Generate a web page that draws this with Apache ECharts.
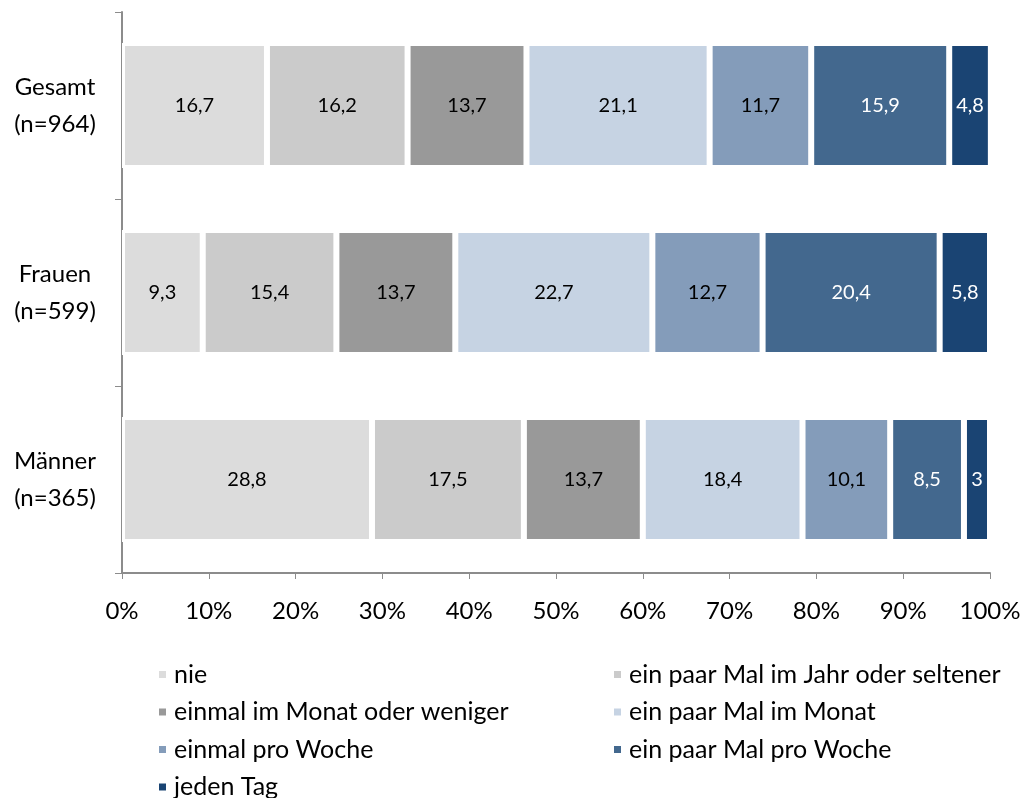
<!DOCTYPE html>
<html>
<head>
<meta charset="utf-8">
<script src="https://cdn.jsdelivr.net/npm/echarts@6/dist/echarts.min.js"></script>
<style>
	html, body { margin: 0; padding: 0; background: #fff; }
	#chart { width: 1026px; height: 798px; }
</style>
</head>
<body>
<div id="chart"></div>
<script>
// categories, top to bottom
var groups = ['Gesamt\n(n=964)', 'Frauen\n(n=599)', 'Männer\n(n=365)'];
var seriesNames = ['nie', 'ein paar Mal im Jahr oder seltener', 'einmal im Monat oder weniger',
	'ein paar Mal im Monat', 'einmal pro Woche', 'ein paar Mal pro Woche', 'jeden Tag'];
var nie = [16.7, 9.3, 28.8];
var paarJahr = [16.2, 15.4, 17.5];
var einmalMonat = [13.7, 13.7, 13.7];
var paarMonat = [21.1, 22.7, 18.4];
var einmalWoche = [11.7, 12.7, 10.1];
var paarWoche = [15.9, 20.4, 8.5];
var jedenTag = [4.8, 5.8, 3];
var xTicks = ['0%', '10%', '20%', '30%', '40%', '50%', '60%', '70%', '80%', '90%', '100%'];

var colors = ['#dcdcdc', '#cbcbcb', '#999999', '#c6d3e3', '#849cba', '#43688e', '#1a4473'];
var labelColors = ['#000', '#000', '#000', '#000', '#000', '#fff', '#fff'];
var values = [nie, paarJahr, einmalMonat, paarMonat, einmalWoche, paarWoche, jedenTag];
var FONT = 'Lato';

var chart = echarts.init(document.getElementById('chart'));
var series = [];
for (var i = 0; i < seriesNames.length; i++) {
	series.push({
		name: seriesNames[i],
		type: 'bar',
		stack: 'total',
		barWidth: 125,
		itemStyle: { color: colors[i], borderColor: '#fff', borderWidth: 3 },
		label: {
			show: true,
			position: 'inside',
			color: labelColors[i],
			fontFamily: FONT,
			fontSize: 20,
			formatter: function (p) { return String(p.value).replace('.', ','); }
		},
		data: values[i]
	});
}

// legend: two columns, one legend per entry so the columns line up
var legendSlots = [[152, 0], [607, 0], [152, 1], [607, 1], [152, 2], [607, 2], [152, 3]];
var legends = [];
for (var k = 0; k < seriesNames.length; k++) {
	legends.push({
		left: legendSlots[k][0], top: 657 + legendSlots[k][1] * 37.5,
		itemWidth: 9, itemHeight: 9, icon: 'rect', itemGap: 0,
		textStyle: { fontFamily: FONT, fontSize: 25, color: '#000', padding: [0, 0, 0, 2] },
		data: [seriesNames[k]]
	});
}

var option = {
	animation: false,
	color: colors,
	grid: { left: 122, right: 36, top: 12, bottom: 225 },
	legend: legends,
	xAxis: {
		type: 'value', min: 0, max: 100, interval: 10,
		axisLine: { show: true, lineStyle: { color: '#8c8c8c', width: 2 } },
		axisTick: { show: true, length: 6, lineStyle: { color: '#8c8c8c' } },
		splitLine: { show: false },
		axisLabel: {
			margin: 26, fontFamily: FONT, fontSize: 24, color: '#000',
			formatter: function (v) { return xTicks[Math.round(v / 10)]; }
		}
	},
	yAxis: {
		type: 'category', inverse: true, data: groups,
		axisLine: { show: true, lineStyle: { color: '#8c8c8c', width: 2 } },
		axisTick: { show: true, length: 7, lineStyle: { color: '#8c8c8c' } },
		axisLabel: {
			margin: 67, fontFamily: FONT, fontSize: 24, color: '#000',
			lineHeight: 37, align: 'center'
		}
	},
	series: series
};
chart.setOption(option);
</script>
</body>
</html>
